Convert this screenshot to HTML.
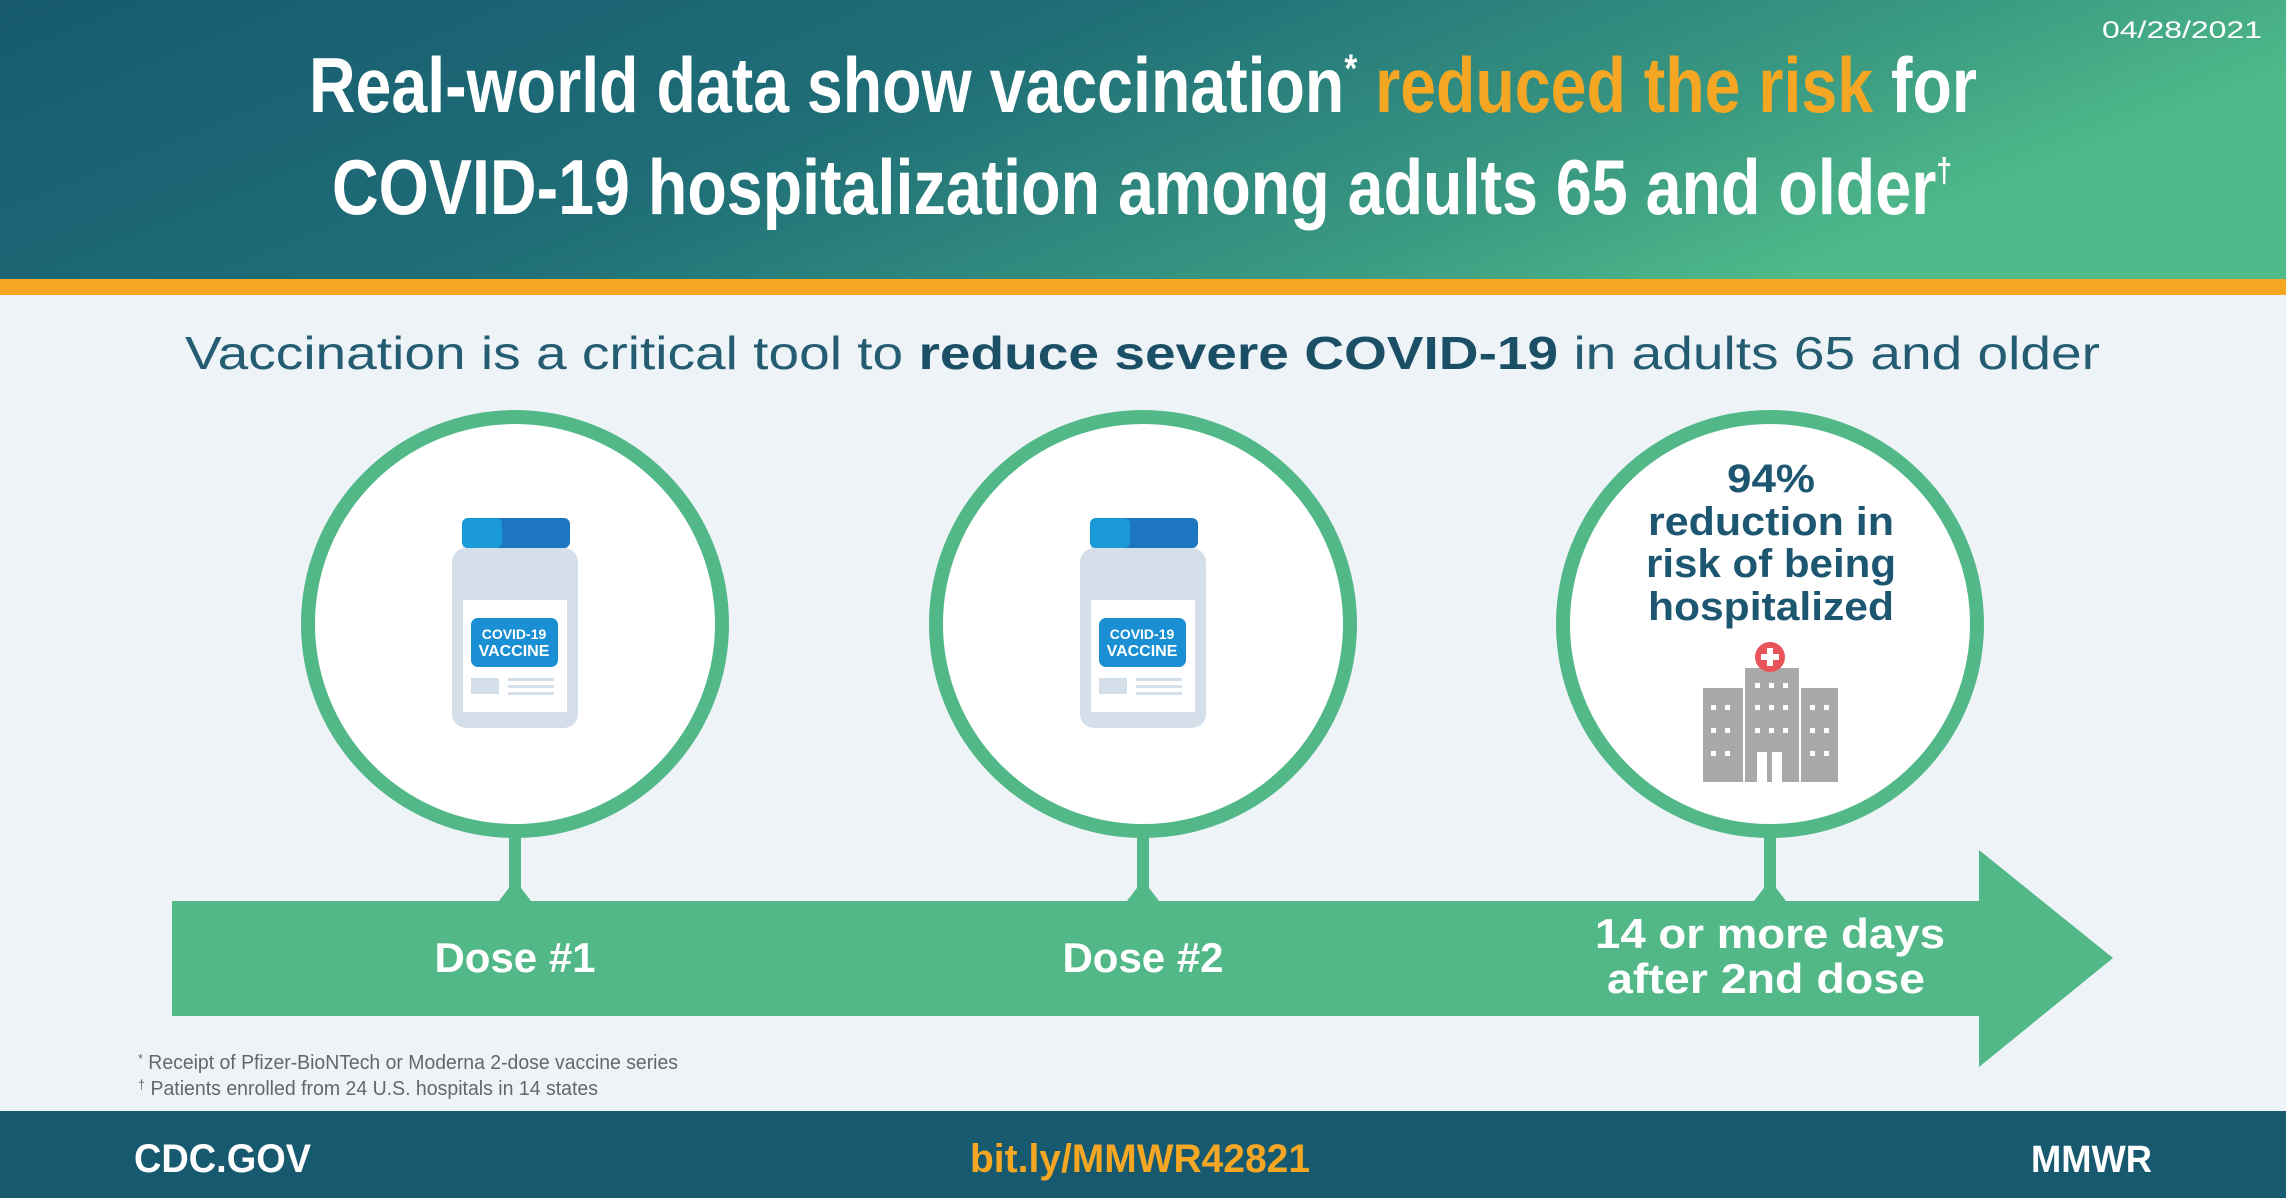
<!DOCTYPE html>
<html><head><meta charset="utf-8"><style>html,body{margin:0;padding:0;background:#eef3f8}svg{display:block}</style></head><body>
<svg width="2286" height="1198" viewBox="0 0 2286 1198" xmlns="http://www.w3.org/2000/svg" font-family="Liberation Sans, sans-serif">
<defs>
<linearGradient id="hg" x1="0" y1="0" x2="1" y2="0.3">
<stop offset="0" stop-color="#175a70"/><stop offset="0.45" stop-color="#1f6e77"/><stop offset="0.8" stop-color="#3a9a82"/><stop offset="1" stop-color="#50bb8a"/>
</linearGradient>
</defs>
<rect width="2286" height="1198" fill="#eef3f8"/>
<rect width="2286" height="279" fill="url(#hg)"/>
<rect y="279" width="2286" height="16" fill="#f5a623"/>
<text x="2262" y="38" fill="#fff" font-size="24" text-anchor="end" textLength="160" lengthAdjust="spacingAndGlyphs">04/28/2021</text>
<text x="309" y="112" fill="#fff" font-size="78" font-weight="bold" textLength="1668" lengthAdjust="spacingAndGlyphs">Real-world data show vaccination<tspan font-size="40" dy="-30">*</tspan><tspan dy="30" fill="#f5a623"> reduced the risk</tspan> for</text>
<text x="332" y="214" fill="#fff" font-size="78" font-weight="bold" textLength="1620" lengthAdjust="spacingAndGlyphs">COVID-19 hospitalization among adults 65 and older<tspan font-size="34" dy="-32">†</tspan></text>
<text x="185" y="369" fill="#245d72" font-size="46" textLength="1915" lengthAdjust="spacingAndGlyphs">Vaccination is a critical tool to <tspan font-weight="bold" fill="#1b4f66">reduce severe COVID-19</tspan> in adults 65 and older</text>

<!-- arrow -->
<path d="M172 901 H1979 V850 L2113 958 L1979 1067 V1016 H172 Z" fill="#52b888"/>
<g fill="#52b888">
<rect x="509" y="830" width="12" height="60"/><path d="M499 901 L515 880 L531 901Z"/>
<rect x="1137" y="830" width="12" height="60"/><path d="M1127 901 L1143 880 L1159 901Z"/>
<rect x="1764" y="830" width="12" height="60"/><path d="M1754 901 L1770 880 L1786 901Z"/>
</g>
<g fill="#fff" stroke="#52b888" stroke-width="14">
<circle cx="515" cy="624" r="207"/><circle cx="1143" cy="624" r="207"/><circle cx="1770" cy="624" r="207"/>
</g>
<!-- vials -->
<g id="vial">
<rect x="452" y="548" width="126" height="180" rx="14" fill="#d4dfe9"/>
<path d="M462 548 L472 528 H558 L568 548Z" fill="#d4dfe9"/>
<rect x="462" y="518" width="108" height="30" rx="6" fill="#1d77c0"/>
<rect x="462" y="518" width="40" height="30" rx="6" fill="#1a9ad8"/>
<rect x="463" y="600" width="104" height="112" fill="#fff"/>
<rect x="471" y="618" width="87" height="49" rx="7" fill="#1a8fd3"/>
<text x="514" y="639" fill="#fff" font-size="14" font-weight="bold" text-anchor="middle">COVID-19</text>
<text x="514" y="656" fill="#fff" font-size="16" font-weight="bold" text-anchor="middle">VACCINE</text>
<rect x="471" y="678" width="28" height="16" fill="#d4dfe9"/>
<rect x="508" y="678" width="46" height="3" fill="#d4dfe9"/><rect x="508" y="685" width="46" height="3" fill="#d4dfe9"/><rect x="508" y="692" width="46" height="3" fill="#d4dfe9"/>
</g>
<use href="#vial" x="628"/>
<!-- circle 3 text -->
<g fill="#1d5670" font-weight="bold" font-size="40" text-anchor="middle">
<text x="1771" y="492" textLength="88" lengthAdjust="spacingAndGlyphs">94%</text>
<text x="1771" y="535" textLength="246" lengthAdjust="spacingAndGlyphs">reduction in</text>
<text x="1771" y="577" textLength="250" lengthAdjust="spacingAndGlyphs">risk of being</text>
<text x="1771" y="620" textLength="246" lengthAdjust="spacingAndGlyphs">hospitalized</text>
</g>
<!-- hospital -->
<g fill="#a9a9a9">
<rect x="1703" y="688" width="40" height="94"/><rect x="1745" y="668" width="54" height="114"/><rect x="1801" y="688" width="37" height="94"/>
</g>
<g fill="#fff">
<rect x="1711" y="705" width="5" height="5"/><rect x="1725" y="705" width="5" height="5"/><rect x="1711" y="728" width="5" height="5"/><rect x="1725" y="728" width="5" height="5"/><rect x="1711" y="751" width="5" height="5"/><rect x="1725" y="751" width="5" height="5"/>
<rect x="1810" y="705" width="5" height="5"/><rect x="1824" y="705" width="5" height="5"/><rect x="1810" y="728" width="5" height="5"/><rect x="1824" y="728" width="5" height="5"/><rect x="1810" y="751" width="5" height="5"/><rect x="1824" y="751" width="5" height="5"/>
<rect x="1755" y="683" width="5" height="5"/><rect x="1769" y="683" width="5" height="5"/><rect x="1783" y="683" width="5" height="5"/>
<rect x="1755" y="705" width="5" height="5"/><rect x="1769" y="705" width="5" height="5"/><rect x="1783" y="705" width="5" height="5"/>
<rect x="1755" y="728" width="5" height="5"/><rect x="1769" y="728" width="5" height="5"/><rect x="1783" y="728" width="5" height="5"/>
<rect x="1757" y="752" width="10" height="30"/><rect x="1772" y="752" width="10" height="30"/>
</g>
<circle cx="1770" cy="657" r="15" fill="#e8545a"/>
<path d="M1767 648h6v6h6v6h-6v6h-6v-6h-6v-6h6z" fill="#fff"/>
<!-- labels -->
<g fill="#fff" font-weight="bold" font-size="42" text-anchor="middle">
<text x="515" y="972">Dose #1</text>
<text x="1143" y="972">Dose #2</text>
<text x="1770" y="948" textLength="350" lengthAdjust="spacingAndGlyphs">14 or more days</text>
<text x="1766" y="993" textLength="318" lengthAdjust="spacingAndGlyphs">after 2nd dose</text>
</g>
<!-- footnotes -->
<g fill="#666" font-size="20">
<text x="138" y="1069" textLength="540" lengthAdjust="spacingAndGlyphs"><tspan font-size="13" dy="-6">*</tspan><tspan dy="6"> Receipt of Pfizer-BioNTech or Moderna 2-dose vaccine series</tspan></text>
<text x="138" y="1095" textLength="460" lengthAdjust="spacingAndGlyphs"><tspan font-size="13" dy="-6">†</tspan><tspan dy="6"> Patients enrolled from 24 U.S. hospitals in 14 states</tspan></text>
</g>
<!-- footer -->
<rect y="1111" width="2286" height="87" fill="#175a70"/>
<text x="134" y="1172" fill="#fff" font-size="40" font-weight="bold" textLength="177" lengthAdjust="spacingAndGlyphs">CDC.GOV</text>
<text x="970" y="1172" fill="#f5a623" font-size="40" font-weight="bold" textLength="340" lengthAdjust="spacingAndGlyphs">bit.ly/MMWR42821</text>
<text x="2031" y="1172" fill="#fff" font-size="38" font-weight="bold" textLength="121" lengthAdjust="spacingAndGlyphs">MMWR</text>
</svg>
</body></html>
